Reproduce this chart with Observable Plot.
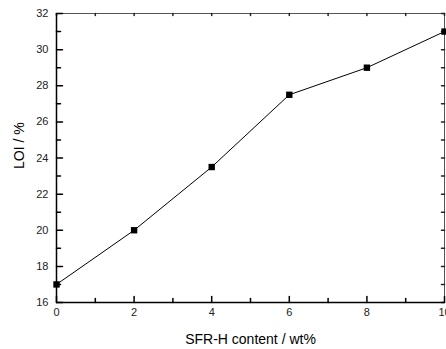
<!DOCTYPE html>
<html><head>
<meta charset="utf-8">
<script src="https://cdn.jsdelivr.net/npm/d3@7"></script>
<script src="https://cdn.jsdelivr.net/npm/@observablehq/plot@0.6"></script>
<style>html,body{margin:0;padding:0;background:#fff;}</style>
</head><body><div id="chart"></div>
<script>
const content = [0, 2, 4, 6, 8, 10];
const loi = [17, 20, 23.5, 27.5, 29, 31];
const xMajor = [0, 2, 4, 6, 8, 10];
const xMinor = [1, 3, 5, 7, 9];
const xAll = [0, 1, 2, 3, 4, 5, 6, 7, 8, 9, 10];
const yMajor = [16, 18, 20, 22, 24, 26, 28, 30, 32];
const yMinor = [17, 19, 21, 23, 25, 27, 29, 31];
const yAll = [16, 17, 18, 19, 20, 21, 22, 23, 24, 25, 26, 27, 28, 29, 30, 31, 32];
const xTitle = "SFR-H content / wt%";
const yTitle = "LOI / %";

const data = content.map((x, i) => ({x, y: loi[i]}));
const tickShape = {draw(ctx, l) { ctx.moveTo(0, 0); ctx.lineTo(0, -l); }};
const xMin = 0, xMax = 10, yMin = 16, yMax = 32;

const chart = Plot.plot({
  width: 446, height: 349,
  marginLeft: 56, marginTop: 13, marginRight: 2, marginBottom: 47,
  x: {domain: [xMin, xMax]},
  y: {domain: [yMin, yMax]},
  style: {fontFamily: "'Liberation Sans', Arial, sans-serif", fontSize: "11px", color: "#000", background: "#fff", overflow: "visible"},
  marks: [
    Plot.frame({stroke: "#555", strokeWidth: 1}),
    // tick labels
    Plot.axisX(xMajor, {anchor: "bottom", tickSize: 0, tickPadding: 6, fill: "#222", fontSize: 11, label: null}),
    Plot.axisY(yMajor, {anchor: "left", tickSize: 0, tickPadding: 8, fill: "#222", fontSize: 11, label: null}),
    // inward ticks
    Plot.vector(xAll, {x: d => d, y: () => yMax, rotate: 180, length: 2, anchor: "start", shape: tickShape, stroke: "#222"}),
    Plot.vector(yAll, {x: () => xMax, y: d => d, rotate: 270, length: 3, anchor: "start", shape: tickShape, stroke: "#222"}),
    Plot.vector(xMinor, {x: d => d, y: () => yMin, rotate: 0, length: 4, anchor: "start", shape: tickShape, stroke: "#000"}),
    Plot.vector(xMajor, {x: d => d, y: () => yMin, rotate: 0, length: 6, anchor: "start", shape: tickShape, stroke: "#000"}),
    Plot.vector(yMinor, {x: () => xMin, y: d => d, rotate: 90, length: 4, anchor: "start", shape: tickShape, stroke: "#000"}),
    Plot.vector(yMajor, {x: () => xMin, y: d => d, rotate: 90, length: 6, anchor: "start", shape: tickShape, stroke: "#000"}),
    Plot.ruleX([xMin], {stroke: "#000", strokeWidth: 1.5}),
    Plot.ruleY([yMin], {stroke: "#000", strokeWidth: 1.5}),
    Plot.line(data, {x: "x", y: "y", stroke: "#000", strokeWidth: 1}),
    Plot.dot(data, {x: "x", y: "y", symbol: "square", r: 3.6, fill: "#000", stroke: "none"}),
    Plot.text([xTitle], {frameAnchor: "bottom", dy: 41, fontSize: 14, fill: "#000"}),
    Plot.text([yTitle], {frameAnchor: "left", dx: -37, dy: 11, rotate: -90, fontSize: 14, fill: "#000"})
  ]
});
document.getElementById("chart").append(chart);
</script>
</body></html>
